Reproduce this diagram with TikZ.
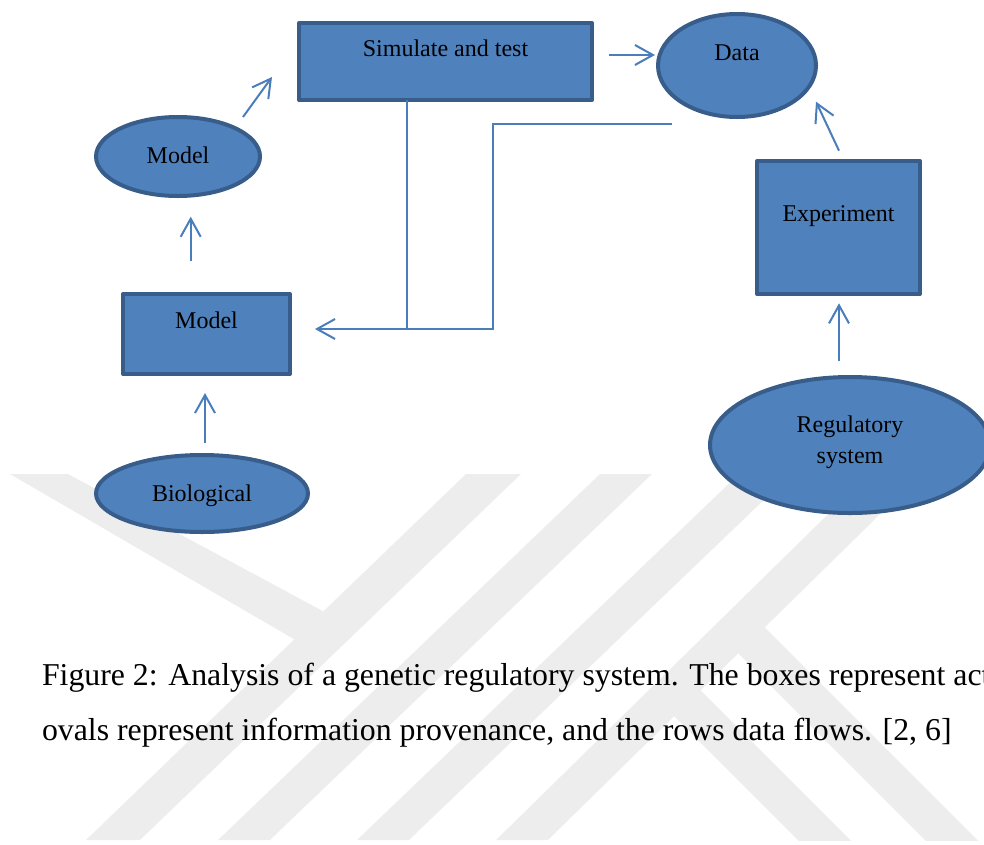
\documentclass[tikz,border=0pt]{standalone}
\usepackage{fontspec}
\setmainfont{Liberation Serif}
\usetikzlibrary{arrows.meta,shapes.geometric}
\definecolor{nodefill}{HTML}{4F81BD}
\definecolor{nodeline}{HTML}{385D8A}
\definecolor{flowblue}{HTML}{4A7EBB}
\definecolor{wmgray}{HTML}{EDEDED}
\begin{document}
\begin{tikzpicture}[x=1pt,y=-1pt,
  shapebase/.style={fill=nodefill, draw=nodeline, line width=4pt, inner sep=0pt,
    outer sep=0pt, font=\fontsize{24}{31}\selectfont, text=black, line join=round},
  actbox/.style={shapebase, rectangle},
  provoval/.style={shapebase, ellipse},
  flowline/.style={draw=flowblue, line width=2pt},
  flow/.style={flowline, -{Straight Barb[length=18pt,width=20pt]}},
  capt/.style={font=\fontsize{31.8}{38}\selectfont, inner sep=0pt, outer sep=0pt, anchor=base west},
  wm/.style={fill=wmgray}
]
\useasboundingbox (0,0) rectangle (984,844);
\clip (0,0) rectangle (984,844);

% watermark
\begin{scope}
\clip (0,474) rectangle (984,840);
\fill[wm] (10,474) -- (68,474) -- (332,616) -- (304,645) -- cycle;
\fill[wm] (466,474) -- (521,474) -- (140,840) -- (86,840) -- cycle;
\fill[wm] (600,474) -- (652,474) -- (270,840) -- (218,840) -- cycle;
\fill[wm] (739,474) -- (791,474) -- (409,840) -- (357,840) -- cycle;
\fill[wm] (869,474) -- (921,474) -- (548,840) -- (496,840) -- cycle;
\fill[wm] (764.5,627) -- (1000,862.5) -- (1000,915) -- (738,653) -- cycle;
\fill[wm] (700.5,690) -- (1000,989.5) -- (1000,1042) -- (674,716) -- cycle;
\end{scope}

% nodes
\node[actbox, minimum width=293pt, minimum height=77pt, text height=17pt, text depth=26.6pt] (sim) at (445.5,61.5) {Simulate and test};
\node[provoval, minimum width=158pt, minimum height=103pt, text height=17pt, text depth=26.6pt] (data) at (737,65.5) {Data};
\node[provoval, minimum width=164pt, minimum height=79pt, text height=17pt, text depth=4pt] (mell) at (178,156.5) {Model};
\node[actbox, minimum width=167pt, minimum height=80pt, text height=17pt, text depth=29pt] (mrect) at (206.5,334) {Model};
\node[provoval, minimum width=212pt, minimum height=77pt, text height=17pt, text depth=2pt] (bio) at (202,493.5) {Biological};
\node[actbox, minimum width=163pt, minimum height=133pt, text height=17pt, text depth=30pt] (exp) at (838.5,227.5) {Experiment};
\node[provoval, minimum width=280pt, minimum height=136pt, align=center] (reg) at (850,445) {Regulatory\\system\rule[-11pt]{0pt}{11pt}};

% connectors
\coordinate (jn) at (493,329);
\coordinate (drop) at ([shift={(-38.5,0)}]sim.south);
\draw[flow] ([shift={(3,-50.5)}]bio.center) -- ([shift={(-1.5,59)}]mrect.center);
\draw[flow] ([shift={(-15.8,-73)}]mrect.center) -- ([shift={(12.7,60.2)}]mell.center);
\draw[flow] ([shift={(65,-39.5)}]mell.center) -- ([shift={(-173.5,15.5)}]sim.center);
\draw[flow] ([shift={(163.5,-6.5)}]sim.center) -- ([shift={(-82,-10.5)}]data.center);
\draw[flow] ([shift={(0.5,-76.8)}]exp.center) -- ([shift={(79,36.2)}]data.center);
\draw[flow] ([shift={(-11,-84.3)}]reg.center) -- ([shift={(0.5,75.8)}]exp.center);
\draw[flow] (drop) |- ([shift={(108.5,-5)}]mrect.center);
\draw[flowline] ([shift={(-65,58.5)}]data.center) -| (jn) -- (drop |- jn);

% caption
\node[capt] (cap1) at (42,685) {Figure 2: Analysis of a genetic regulatory system. The boxes represent activities, the};
\node[capt] (cap2) at (42,740) {ovals represent information provenance, and the rows data flows. [2, 6]};
\end{tikzpicture}
\end{document}
